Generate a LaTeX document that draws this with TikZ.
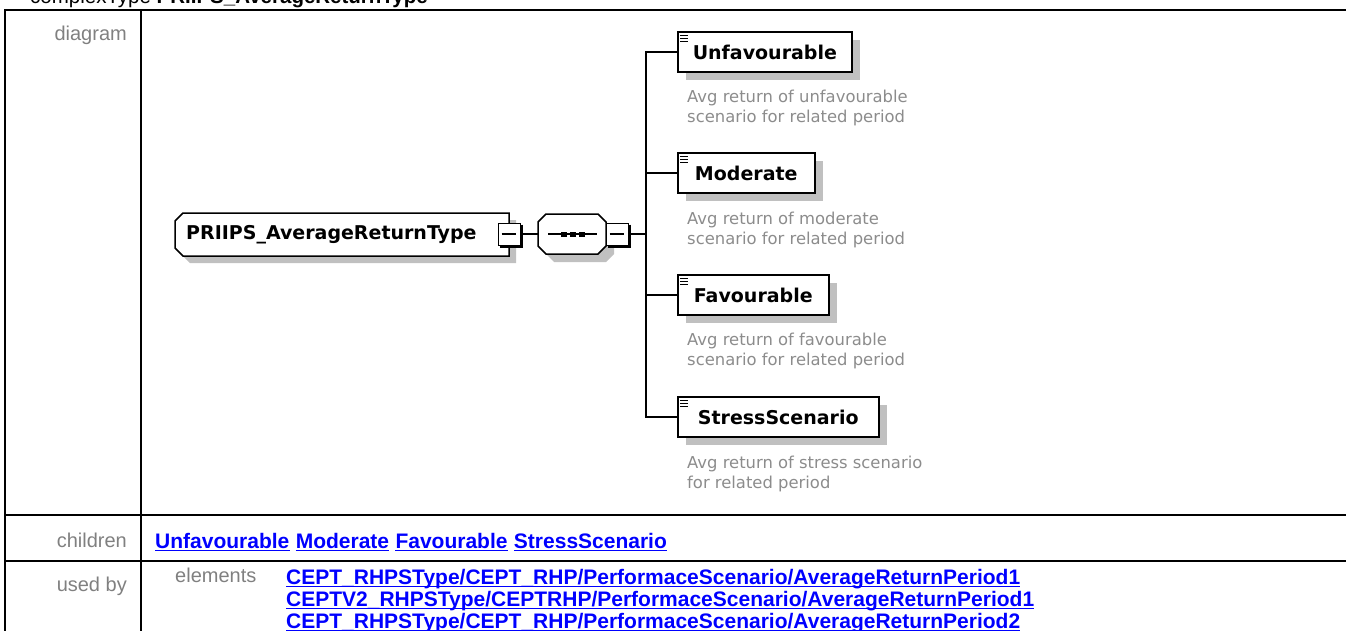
\documentclass[tikz,border=0pt]{standalone}
\usepackage{fontspec}
\setmainfont{Liberation Sans}
\newfontfamily\dv{DejaVu Sans}
\usetikzlibrary{shadows}
\definecolor{lblgray}{RGB}{128,128,128}
\definecolor{descgray}{RGB}{140,140,140}
\definecolor{shadowgray}{RGB}{192,192,192}
\definecolor{linkblue}{RGB}{0,0,255}
\begin{document}
\begin{tikzpicture}[x=1pt,y=-1pt,
  tbl/.style={line width=2pt, black},
  lbl/.style={inner sep=0, text=lblgray, font=\fontsize{20}{24}\selectfont},
  lnk/.style={inner sep=0, text=linkblue, font=\fontsize{21}{25}\selectfont\bfseries},
  ul/.style={linkblue, line width=1.8pt},
  conn/.style={line width=1.5pt, black},
  shapeline/.style={line width=1.5pt, black, fill=white},
  child/.style={draw, line width=1.5pt, fill=white, minimum height=40pt, inner xsep=15pt, inner ysep=0pt, anchor=west,
    font=\dv\fontsize{19}{22}\selectfont\bfseries,
    drop shadow={shadow xshift=8pt, shadow yshift=-8pt, fill=shadowgray, opacity=1}},
  desc/.style={inner sep=0, anchor=north west, align=left, text=descgray, font=\dv\fontsize{16.4}{20.5}\selectfont},
  minusbox/.style={draw, line width=1pt, fill=white, minimum size=22pt, inner sep=0pt},
  icon/.style={line width=1.1pt, black}]
\useasboundingbox (0,0) rectangle (1346,630);

% title
\node[anchor=base west, inner sep=0, font=\fontsize{20.5}{24}\selectfont] (title) at (30,3) {complexType \textbf{PRIIPS\_AverageReturnType}};

% table
\draw[tbl] (5,632) -- (5,10) -- (1348,10);
\draw[tbl] (141,10) -- (141,632);
\draw[tbl] (5,515) -- (1348,515);
\draw[tbl] (5,561) -- (1348,561);

\node[lbl, anchor=base east] (ldiag) at (127,40) {diagram};
\node[lbl, anchor=base east] (lchild) at (127,547) {children};
\node[lbl, anchor=base east] (lused) at (127,591) {used by};
\node[lbl, anchor=base west] (lelem) at (175,582) {elements};

% main complexType box
\fill[shadowgray] (190,220) -- (516,220) -- (516,263) -- (190,263) -- (182,255) -- (182,228) -- cycle;
\draw[shapeline] (183,213) -- (509,213) -- (509,256) -- (183,256) -- (175,248) -- (175,221) -- cycle;
\node[anchor=west, inner sep=0, font=\dv\fontsize{19}{22}\selectfont\bfseries] (main) at (186,234.5) {PRIIPS\_AverageReturnType};

% sequence compositor
\node[inner sep=0, minimum width=68pt, minimum height=40pt] (seq) at (572,234) {};
\fill[shadowgray] (554,222) -- (606,222) -- (614,230) -- (614,254) -- (606,262) -- (554,262) -- (546,254) -- (546,230) -- cycle;
\draw[shapeline] (546,214) -- (598,214) -- (606,222) -- (606,246) -- (598,254) -- (546,254) -- (538,246) -- (538,222) -- cycle;
\draw[line width=1.3pt] (548,234) -- (597,234);
\fill (561,231.5) rectangle (567,236.5);
\fill (570,231.5) rectangle (576,236.5);
\fill (579,231.5) rectangle (585,236.5);

% minus boxes
\node[minusbox] (m1) at (509,234) {};
\draw[line width=2pt] ([shift={(1pt,-2pt)}]m1.north east) -- ([shift={(1pt,-1pt)}]m1.south east) -- ([shift={(2pt,-1pt)}]m1.south west);
\draw[line width=1.2pt] ([xshift=4pt]m1.west) -- ([xshift=-5pt]m1.east);
\node[minusbox] (m2) at (617,234) {};
\draw[line width=2pt] ([shift={(1pt,-2pt)}]m2.north east) -- ([shift={(1pt,-1pt)}]m2.south east) -- ([shift={(2pt,-1pt)}]m2.south west);
\draw[line width=1.2pt] ([xshift=4pt]m2.west) -- ([xshift=-5pt]m2.east);

% children
\node[child, minimum width=174pt] (c1) at (677,52) {Unfavourable};
\node[child, minimum width=137pt] (c2) at (677,173) {Moderate};
\node[child, minimum width=151pt] (c3) at (677,295) {Favourable};
\node[child, minimum width=201pt] (c4) at (677,417) {StressScenario};
\foreach \n in {c1,c2,c3,c4} {
  \foreach \d in {4pt,7pt,10pt} {
    \draw[icon] ([shift={(3pt,-\d)}]\n.north west) -- ++(8pt,0pt);
  }
}

\node[desc] (d1) at (687,89.5) {Avg return of unfavourable\\scenario for related period};
\node[desc] (d2) at (687,211.5) {Avg return of moderate\\scenario for related period};
\node[desc] (d3) at (687,332.5) {Avg return of favourable\\scenario for related period};
\node[desc] (d4) at (687,455.5) {Avg return of stress scenario\\for related period};

% connectors
\coordinate (jx) at (646,0);
\draw[conn] (m1.east) -- (seq.west);
\draw[conn] (m2.east) -- (m2.east -| jx);
\draw[conn] (c1.west) -- (c1.west -| jx) -- (c4.west -| jx) -- (c4.west);
\draw[conn] (c2.west) -- (c2.west -| jx);
\draw[conn] (c3.west) -- (c3.west -| jx);

% children links
\node[lnk, anchor=base west] (k1) at (155,548) {Unfavourable};
\node[lnk, anchor=base west] (k2) at ([xshift=6pt]k1.base east) {Moderate};
\node[lnk, anchor=base west] (k3) at ([xshift=6pt]k2.base east) {Favourable};
\node[lnk, anchor=base west] (k4) at ([xshift=6pt]k3.base east) {StressScenario};

% used by links
\node[lnk, anchor=base west] (u1) at (286,584) {CEPT\_RHPSType/CEPT\_RHP/PerformaceScenario/AverageReturnPeriod1};
\node[lnk, anchor=base west] (u2) at (286,606) {CEPTV2\_RHPSType/CEPTRHP/PerformaceScenario/AverageReturnPeriod1};
\node[lnk, anchor=base west] (u3) at (286,628) {CEPT\_RHPSType/CEPT\_RHP/PerformaceScenario/AverageReturnPeriod2};

\foreach \n in {k1,k2,k3,k4,u1,u2,u3} {
  \draw[ul] ([yshift=-2.5pt]\n.base west) -- ([yshift=-2.5pt]\n.base east);
}
\end{tikzpicture}
\end{document}
